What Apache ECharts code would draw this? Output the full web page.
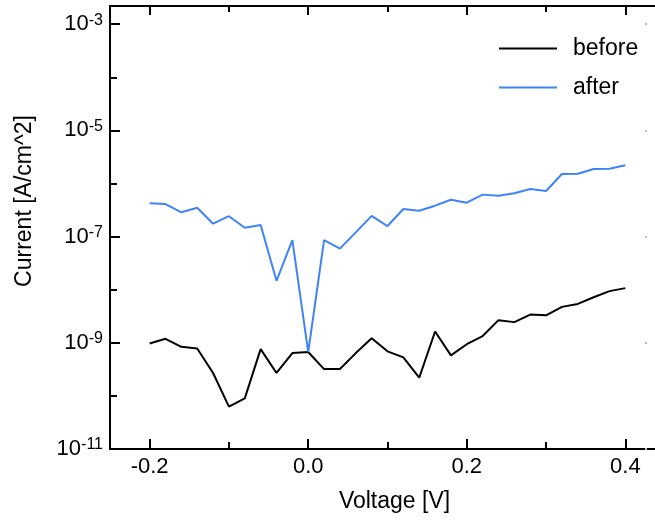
<!DOCTYPE html>
<html>
<head>
<meta charset="utf-8">
<script src="https://cdn.jsdelivr.net/npm/echarts@6/dist/echarts.min.js"></script>
<style>
  html, body { margin: 0; padding: 0; background: #fff; overflow: hidden; }
  #chart { width: 655px; height: 521px; }
</style>
</head>
<body>
<div id="chart"></div>
<script>
// Bias voltage (V)
var voltage = [-0.20, -0.18, -0.16, -0.14, -0.12, -0.10, -0.08, -0.06, -0.04, -0.02,
  0.00, 0.02, 0.04, 0.06, 0.08, 0.10, 0.12, 0.14, 0.16, 0.18,
  0.20, 0.22, 0.24, 0.26, 0.28, 0.30, 0.32, 0.34, 0.36, 0.38, 0.40];

// Current density (A/cm^2)
var before = [9.7e-10, 1.19e-9, 8.4e-10, 7.8e-10, 2.7e-10, 6.3e-11, 9.0e-11, 7.6e-10, 2.7e-10, 6.4e-10,
  6.7e-10, 3.2e-10, 3.2e-10, 6.4e-10, 1.22e-9, 6.9e-10, 5.3e-10, 2.2e-10, 1.63e-9, 5.8e-10,
  9.4e-10, 1.34e-9, 2.67e-9, 2.45e-9, 3.4e-9, 3.3e-9, 4.75e-9, 5.4e-9, 7.2e-9, 9.4e-9, 1.07e-8];
var after = [4.24e-7, 4.1e-7, 2.87e-7, 3.5e-7, 1.75e-7, 2.42e-7, 1.47e-7, 1.66e-7, 1.47e-8, 8.55e-8,
  6.7e-10, 8.55e-8, 5.94e-8, 1.2e-7, 2.45e-7, 1.58e-7, 3.31e-7, 3.07e-7, 3.82e-7, 4.95e-7,
  4.35e-7, 6.17e-7, 5.9e-7, 6.55e-7, 7.87e-7, 7.22e-7, 1.51e-6, 1.53e-6, 1.88e-6, 1.9e-6, 2.2e-6];

// Axis ticks
var xMajorTicks = [-0.2, 0.0, 0.2, 0.4];
var xMinorTicks = [-0.1, 0.1, 0.3];
var yMajorTicks = [1e-11, 1e-9, 1e-7, 1e-5, 1e-3];
var yMinorTicks = [1e-10, 1e-8, 1e-6, 1e-4];

var FONT = '"Liberation Sans", Arial, Helvetica, sans-serif';

function pairs(xs, ys) {
  return xs.map(function (x, i) { return [x, ys[i]]; });
}

var chart = echarts.init(document.getElementById('chart'), null, { renderer: 'canvas' });

var lineAxis = { show: true, onZero: false, lineStyle: { color: '#000', width: 2 } };
var hidden = { show: false };
var noLine = { show: false, onZero: false };

var xCommon = { type: 'value', min: -0.25, max: 0.45, splitLine: hidden };
var yCommon = { type: 'log', logBase: 10, min: 1e-11, max: 2.2e-3, splitLine: hidden };

function ticks(len, values, color) {
  return { show: true, inside: true, length: len, lineStyle: { color: color || '#000', width: 2 }, customValues: values };
}

chart.setOption({
  animation: false,
  backgroundColor: '#fff',
  textStyle: { fontFamily: FONT },
  // frame runs past the right edge of the canvas
  grid: { left: 110, top: 6, width: 555, height: 443, containLabel: false, outerBoundsMode: 'none' },
  legend: {
    orient: 'vertical',
    left: 494,
    top: 32,
    icon: 'rect',
    itemWidth: 58,
    itemHeight: 2,
    itemGap: 16,
    data: ['before', 'after'],
    textStyle: { fontFamily: FONT, fontSize: 23, color: '#000', padding: [0, 0, 0, 11] }
  },
  xAxis: [
    Object.assign({}, xCommon, {
      position: 'bottom',
      axisLine: lineAxis,
      axisTick: ticks(10, xMajorTicks),
      axisLabel: {
        show: true, margin: 7, color: '#000', fontSize: 22, fontFamily: FONT,
        customValues: xMajorTicks,
        formatter: function (v) { return v.toFixed(1); }
      },
      name: 'Voltage [V]',
      nameLocation: 'middle',
      nameGap: 41,
      nameTextStyle: { color: '#000', fontSize: 23, fontFamily: FONT, padding: [0, 0, 0, 14] }
    }),
    Object.assign({}, xCommon, {
      position: 'bottom',
      axisLine: noLine,
      axisLabel: hidden,
      axisTick: ticks(7, xMinorTicks)
    }),
    Object.assign({}, xCommon, {
      position: 'top',
      axisLine: lineAxis,
      axisLabel: hidden,
      axisTick: ticks(9, xMajorTicks)
    }),
    Object.assign({}, xCommon, {
      position: 'top',
      axisLine: noLine,
      axisLabel: hidden,
      axisTick: ticks(6, xMinorTicks)
    })
  ],
  yAxis: [
    Object.assign({}, yCommon, {
      position: 'left',
      axisLine: lineAxis,
      axisTick: ticks(10, yMajorTicks),
      axisLabel: {
        show: true, margin: 7, color: '#000', fontSize: 22, fontFamily: FONT,
        customValues: yMajorTicks,
        formatter: function (v) {
          var e = Math.round(Math.log(v) / Math.LN10);
          return '10{sup|' + e + '}';
        },
        rich: {
          sup: { fontSize: 16, fontFamily: FONT, color: '#000', verticalAlign: 'top', lineHeight: 24 }
        }
      },
      name: 'Current [A/cm^2]',
      nameLocation: 'middle',
      nameGap: 74,
      nameTextStyle: { color: '#000', fontSize: 23, fontFamily: FONT, padding: [0, 0, 0, 53] }
    }),
    Object.assign({}, yCommon, {
      position: 'left',
      axisLine: noLine,
      axisLabel: hidden,
      axisTick: ticks(7, yMinorTicks)
    }),
    Object.assign({}, yCommon, {
      position: 'right',
      axisLine: lineAxis,
      axisLabel: hidden,
      axisTick: ticks(10, yMajorTicks)
    }),
    Object.assign({}, yCommon, {
      position: 'right',
      offset: -18,
      axisLine: noLine,
      axisLabel: hidden,
      axisTick: ticks(2, yMajorTicks, '#bbb')
    })
  ],
  series: [
    {
      name: 'before',
      type: 'line',
      xAxisIndex: 0,
      yAxisIndex: 0,
      data: pairs(voltage, before),
      symbol: 'none',
      lineStyle: { color: '#000', width: 2 },
      itemStyle: { color: '#000' }
    },
    {
      name: 'after',
      type: 'line',
      xAxisIndex: 0,
      yAxisIndex: 0,
      data: pairs(voltage, after),
      symbol: 'none',
      lineStyle: { color: '#3f83f8', width: 2 },
      itemStyle: { color: '#3f83f8' }
    }
  ]
});
</script>
</body>
</html>
